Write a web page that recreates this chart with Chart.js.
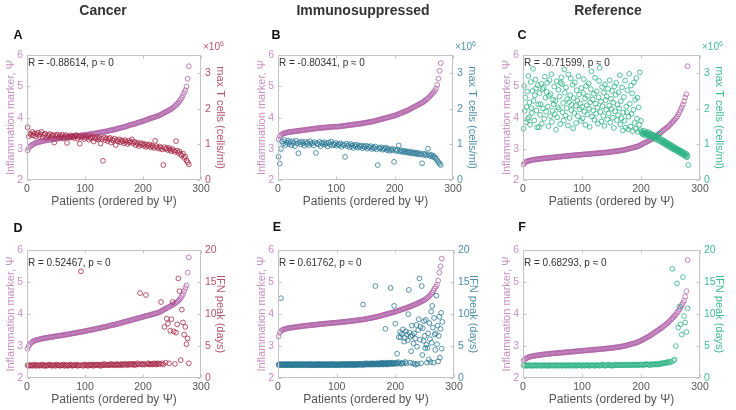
<!DOCTYPE html>
<html><head><meta charset="utf-8">
<script src="https://cdn.jsdelivr.net/npm/chart.js@4"></script>
<style>
body{margin:0;width:736px;height:410px;background:#fff;position:relative;overflow:hidden;font-family:"Liberation Sans",Arial,sans-serif}
.t{position:absolute;white-space:nowrap;line-height:1}
.title{font-weight:bold;font-size:14px;color:#333;transform:translate(-50%,-50%)}
.lt{font-weight:bold;font-size:12.5px;color:#111;transform:translate(-50%,-50%)}
.rt{font-size:10px;color:#333;transform:translateY(-50%)}
.ex{font-size:10px;transform:translateY(-50%)}
.ex sup{font-size:7px;vertical-align:4px}
canvas{position:absolute}
</style></head><body>
<script>
// ---------- data ----------
const patientTicks=[0,100,200,300];
const psiTicks=[2,3,4,5,6];
const tcellTicks=[0,1,2,3];
const ifnTicks=[0,5,10,15,20];
const columnTitles=['Cancer','Immunosuppressed','Reference'];
const panelLetters=['A','B','C','D','E','F'];
const rValues=['-0.88614','-0.80341','-0.71599','0.52467','0.61762','0.68293'];

// Psi (inflammation marker), patients 1,3,5,...,279
const psiCancerT=[2.95,3.02,3.07,3.10,3.13,3.15,3.17,3.19,3.20,3.21,
3.22,3.23,3.24,3.25,3.26,3.26,3.27,3.28,3.28,3.29,
3.30,3.30,3.31,3.31,3.32,3.32,3.33,3.33,3.34,3.34,
3.35,3.35,3.36,3.36,3.37,3.37,3.38,3.38,3.39,3.39,
3.40,3.40,3.41,3.41,3.42,3.42,3.43,3.43,3.44,3.44,
3.45,3.45,3.46,3.46,3.47,3.48,3.48,3.49,3.49,3.50,
3.51,3.51,3.52,3.53,3.53,3.54,3.55,3.55,3.56,3.57,
3.58,3.59,3.60,3.60,3.61,3.62,3.63,3.64,3.65,3.66,
3.67,3.68,3.69,3.70,3.71,3.72,3.73,3.75,3.76,3.77,
3.78,3.79,3.80,3.81,3.82,3.84,3.85,3.86,3.87,3.88,
3.90,3.91,3.92,3.94,3.95,3.96,3.98,3.99,4.00,4.01,
4.03,4.04,4.05,4.06,4.08,4.10,4.12,4.14,4.16,4.18,
4.20,4.22,4.24,4.26,4.28,4.31,4.34,4.37,4.40,4.44,
4.48,4.53,4.58,4.64,4.72,4.80,4.88,5.00,5.25,5.65];
// max T cells (x10^6 cells/ml), patients 1,3,...,279
const tCancer=[1.48,1.22,1.30,1.27,1.35,1.25,1.31,1.22,1.28,1.33,
1.24,1.29,1.35,1.21,1.27,1.30,1.18,1.26,1.23,1.29,
1.20,1.27,1.24,1.05,1.26,1.22,1.28,1.19,1.25,1.21,
1.27,1.17,1.23,1.26,1.04,1.22,1.19,1.25,1.20,1.24,
1.18,1.23,1.26,1.16,1.21,1.02,1.24,1.19,1.22,1.15,
1.22,1.18,1.25,1.13,1.20,1.17,1.23,1.08,1.19,1.15,
1.21,1.14,1.18,1.02,1.16,0.54,1.19,1.12,1.17,1.09,
1.15,1.18,1.05,1.13,1.10,1.16,0.98,1.12,1.08,1.14,
1.06,1.11,1.09,1.03,1.12,1.07,1.01,1.10,1.05,1.08,
1.14,1.03,1.07,0.98,1.05,1.01,0.95,1.04,0.99,1.02,
0.96,1.01,0.93,0.99,0.95,1.00,0.92,0.97,0.94,0.90,
1.10,0.95,0.91,0.88,0.94,0.90,0.86,0.42,0.92,0.87,
0.89,0.84,0.90,0.85,0.81,0.87,0.83,0.79,1.09,0.82,
0.76,0.80,0.72,0.68,0.74,0.62,0.66,0.55,0.50,0.44];

const psiImmunoT=[3.30,3.40,3.44,3.47,3.49,3.50,3.51,3.52,3.53,3.54,
3.54,3.55,3.55,3.56,3.56,3.57,3.57,3.58,3.58,3.59,
3.59,3.60,3.60,3.61,3.61,3.62,3.62,3.63,3.63,3.64,
3.64,3.65,3.65,3.66,3.66,3.67,3.67,3.67,3.68,3.68,
3.68,3.69,3.69,3.69,3.70,3.70,3.70,3.71,3.71,3.71,
3.71,3.71,3.72,3.72,3.73,3.73,3.74,3.74,3.75,3.75,
3.76,3.76,3.77,3.77,3.78,3.78,3.79,3.79,3.80,3.80,
3.81,3.81,3.82,3.83,3.83,3.84,3.85,3.85,3.86,3.87,
3.87,3.88,3.89,3.90,3.91,3.92,3.93,3.94,3.95,3.96,
3.97,3.98,3.99,4.00,4.01,4.02,4.03,4.04,4.05,4.06,
4.07,4.09,4.10,4.12,4.13,4.15,4.16,4.18,4.19,4.21,
4.22,4.24,4.26,4.28,4.30,4.32,4.34,4.36,4.38,4.40,
4.42,4.44,4.46,4.48,4.50,4.53,4.56,4.59,4.62,4.66,
4.70,4.74,4.78,4.82,4.87,4.93,5.05,5.25,5.50,5.75];
const tImmuno=[0.65,0.46,0.87,1.08,1.02,1.12,0.98,1.05,1.10,1.01,
1.07,0.97,1.09,1.04,0.95,1.10,1.03,0.75,1.06,1.00,
1.08,1.03,0.96,1.07,1.01,1.05,0.98,1.09,1.02,1.04,
0.97,1.06,0.76,1.03,1.00,1.07,0.95,1.04,1.01,1.06,
0.99,1.03,0.94,1.05,1.00,1.08,0.97,1.02,0.99,1.04,
0.96,1.01,0.98,1.03,0.93,1.00,0.97,0.65,1.02,0.95,
0.99,0.92,1.01,0.96,0.90,0.98,0.94,0.99,0.91,0.96,
0.93,0.97,0.89,0.95,0.92,0.96,0.88,0.94,0.91,0.95,
0.87,0.92,0.89,0.94,0.86,0.42,0.90,0.88,0.92,0.85,
0.89,0.87,0.91,0.84,0.88,0.82,0.86,0.83,0.87,0.51,
0.85,0.81,0.84,0.97,0.80,0.83,0.79,0.82,0.78,0.81,
0.77,0.80,0.76,0.79,0.75,0.78,0.74,0.77,0.73,0.76,
0.72,0.75,0.71,0.47,0.74,0.70,0.73,0.69,0.88,0.72,
0.67,0.70,0.65,0.68,0.63,0.60,0.55,0.50,0.46,0.42];

const psiRefT=[2.50,2.55,2.58,2.60,2.61,2.62,2.63,2.64,2.65,2.65,
2.66,2.66,2.67,2.67,2.68,2.68,2.69,2.69,2.70,2.70,
2.70,2.71,2.71,2.72,2.72,2.72,2.73,2.73,2.74,2.74,
2.74,2.75,2.75,2.76,2.76,2.76,2.77,2.77,2.78,2.78,
2.78,2.79,2.79,2.79,2.80,2.80,2.80,2.81,2.81,2.81,
2.82,2.82,2.82,2.83,2.83,2.83,2.84,2.84,2.84,2.85,
2.85,2.85,2.86,2.86,2.86,2.87,2.87,2.87,2.88,2.88,
2.88,2.89,2.89,2.90,2.90,2.91,2.91,2.92,2.92,2.93,
2.93,2.94,2.94,2.95,2.96,2.96,2.97,2.98,2.99,3.00,
3.01,3.02,3.03,3.04,3.05,3.06,3.07,3.08,3.10,3.12,
3.14,3.16,3.18,3.20,3.22,3.24,3.26,3.28,3.30,3.32,
3.34,3.37,3.40,3.43,3.46,3.49,3.52,3.55,3.58,3.61,
3.64,3.67,3.70,3.73,3.77,3.81,3.85,3.89,3.93,3.98,
4.03,4.10,4.17,4.25,4.33,4.42,4.52,4.65,4.75,5.65];
// patients 1..280 (every patient)
const tRef=[1.44,2.64,1.94,2.31,1.62,2.05,2.48,1.71,2.92,1.76,
2.18,1.55,2.75,2.02,1.88,2.50,3.12,2.22,1.67,2.38,
2.82,2.57,1.95,1.48,2.66,2.12,1.48,2.44,1.83,2.13,
2.70,1.58,2.55,2.01,2.59,1.72,2.90,2.31,1.92,2.47,
2.73,2.06,1.51,2.36,2.80,1.79,2.41,2.97,1.63,1.94,
2.25,2.13,2.62,1.85,2.22,1.41,2.77,1.76,2.04,2.53,
1.99,2.34,1.57,2.73,2.88,2.69,1.90,2.16,1.67,3.10,
2.45,1.81,2.60,2.02,2.27,1.53,2.96,2.19,1.74,2.38,
2.85,1.96,2.11,2.67,1.45,2.30,1.88,2.74,2.08,1.60,
2.52,2.23,1.79,2.91,2.40,1.98,2.15,1.66,2.58,2.05,
1.73,2.44,2.83,1.92,2.29,1.55,2.64,2.10,1.84,2.36,
2.71,2.00,1.49,2.18,2.55,3.05,1.78,2.26,1.95,2.42,
1.69,2.87,2.14,1.86,2.49,2.03,1.58,2.32,2.78,3.15,
1.91,2.20,1.64,2.61,2.07,1.80,2.45,1.52,2.68,2.24,
1.97,2.35,1.70,2.56,1.87,2.09,2.80,1.61,2.28,1.99,
2.50,1.75,2.17,1.46,2.63,1.93,2.39,2.72,1.68,2.11,
1.82,2.46,2.01,2.94,1.56,2.21,1.73,2.60,1.39,1.89,
2.33,1.66,2.79,1.47,2.06,1.90,2.52,1.42,1.78,2.98,
2.14,1.50,2.65,1.85,2.43,1.37,1.97,2.74,1.60,2.25,
1.44,2.86,1.72,2.31,1.35,2.04,1.55,3.02,1.40,1.66,
1.36,1.30,1.33,1.27,1.38,1.31,1.25,1.34,1.29,1.32,
1.26,1.35,1.28,1.22,1.31,1.24,1.29,1.20,1.27,1.23,
1.18,1.26,1.21,1.15,1.24,1.19,1.13,1.22,1.16,1.10,
1.17,1.30,1.12,1.07,1.14,1.09,1.04,1.11,1.06,1.01,
1.08,1.03,0.98,1.05,1.00,0.95,1.02,0.97,0.92,0.99,
0.94,0.89,0.96,0.91,0.86,0.93,0.88,0.84,0.90,0.85,
0.81,0.87,0.83,0.78,0.84,0.80,0.75,0.82,0.77,0.72,
0.79,0.74,0.69,0.76,0.71,0.66,0.73,0.64,0.68,0.42];

const psiCancerI=[2.92,3.00,3.06,3.10,3.13,3.15,3.17,3.18,3.19,3.20,
3.21,3.22,3.23,3.24,3.24,3.25,3.26,3.26,3.27,3.28,
3.28,3.29,3.29,3.30,3.31,3.31,3.32,3.32,3.33,3.33,
3.34,3.35,3.35,3.36,3.36,3.37,3.38,3.38,3.39,3.40,
3.40,3.41,3.42,3.42,3.43,3.44,3.44,3.45,3.46,3.46,
3.47,3.48,3.49,3.49,3.50,3.51,3.52,3.52,3.53,3.54,
3.55,3.56,3.56,3.57,3.58,3.59,3.60,3.60,3.61,3.62,
3.63,3.64,3.65,3.66,3.66,3.67,3.68,3.69,3.70,3.71,
3.72,3.73,3.74,3.75,3.76,3.77,3.78,3.79,3.80,3.81,
3.82,3.83,3.84,3.85,3.86,3.87,3.88,3.89,3.90,3.91,
3.92,3.93,3.94,3.95,3.96,3.97,3.98,3.99,4.00,4.01,
4.02,4.03,4.04,4.05,4.07,4.09,4.11,4.13,4.15,4.17,
4.19,4.21,4.23,4.25,4.27,4.29,4.31,4.33,4.36,4.39,
4.42,4.46,4.50,4.56,4.63,4.72,4.82,4.90,5.30,5.78];
// IFN peak (days), patients 1,3,...,279
const ifnCancer=[2.0,1.9,2.0,2.0,1.9,2.0,2.1,1.9,2.0,2.0,
1.9,2.0,2.0,2.1,1.9,2.0,1.9,2.0,2.0,2.1,
2.0,1.9,2.0,2.0,1.9,2.1,2.0,2.0,1.9,2.0,
2.0,2.1,1.9,2.0,2.0,1.9,2.0,2.1,2.0,1.9,
2.0,2.0,2.1,1.9,2.0,2.0,16.7,2.0,1.9,2.1,
2.0,2.0,1.9,2.1,2.0,2.0,2.1,1.9,2.0,2.1,
2.0,2.1,2.0,1.9,2.1,2.0,2.2,2.0,2.1,2.0,
2.1,2.0,2.2,2.1,2.0,2.1,2.0,2.2,2.1,2.0,
2.1,2.2,2.0,2.1,2.2,2.1,2.0,2.2,2.1,2.2,
2.1,2.2,2.0,2.2,2.1,2.3,2.1,13.3,2.2,2.1,
2.2,2.1,13.0,2.2,2.3,2.1,2.2,2.2,2.1,2.3,
2.2,2.1,2.3,2.2,2.2,11.9,2.3,2.1,8.0,2.4,
9.3,8.5,2.3,7.4,9.2,11.9,7.3,2.2,7.1,8.4,
15.6,13.6,2.8,10.7,8.7,6.8,8.0,5.3,6.2,2.3];

const psiImmunoI=[3.30,3.42,3.47,3.50,3.52,3.53,3.54,3.55,3.56,3.57,
3.57,3.58,3.58,3.59,3.59,3.60,3.60,3.61,3.61,3.62,
3.62,3.63,3.63,3.64,3.64,3.64,3.65,3.65,3.66,3.66,
3.66,3.67,3.67,3.68,3.68,3.68,3.69,3.69,3.70,3.70,
3.70,3.71,3.71,3.71,3.72,3.72,3.72,3.73,3.73,3.73,
3.74,3.74,3.74,3.75,3.75,3.76,3.76,3.76,3.77,3.77,
3.78,3.78,3.78,3.79,3.79,3.80,3.80,3.81,3.81,3.82,
3.82,3.83,3.83,3.84,3.85,3.85,3.86,3.87,3.87,3.88,
3.89,3.90,3.90,3.91,3.92,3.93,3.94,3.95,3.96,3.97,
3.98,3.99,4.00,4.01,4.02,4.03,4.04,4.05,4.06,4.07,
4.08,4.09,4.11,4.12,4.13,4.15,4.16,4.17,4.18,4.20,
4.21,4.22,4.24,4.25,4.27,4.28,4.30,4.31,4.33,4.35,
4.37,4.38,4.40,4.42,4.44,4.46,4.49,4.52,4.55,4.59,
4.63,4.68,4.74,4.80,4.86,4.92,5.05,5.30,5.50,5.74];
// patients 1..280
const ifnImmuno=[2.1,2.0,2.2,2.1,12.5,2.0,2.1,2.2,2.0,2.1,
2.1,2.0,2.1,2.2,2.0,2.1,2.1,2.0,2.2,2.1,
2.0,2.1,2.1,2.0,2.2,2.1,2.0,2.1,2.1,2.2,
2.1,2.0,2.1,2.1,2.0,2.2,2.1,2.0,2.1,2.1,
2.2,2.0,2.1,2.1,2.0,2.1,2.2,2.1,2.0,2.1,
2.1,2.0,2.2,2.1,2.1,2.0,2.1,2.2,2.0,2.1,
2.0,2.1,2.1,2.2,2.0,2.1,2.1,2.0,2.2,2.1,
2.1,2.2,2.0,2.1,2.1,2.0,2.1,2.2,2.1,2.0,
2.1,2.1,2.0,2.2,2.1,2.1,2.0,2.1,2.2,2.1,
2.0,2.1,2.2,2.1,2.0,2.1,2.1,2.2,2.0,2.1,
2.1,2.0,2.1,2.2,2.1,2.1,2.0,2.1,2.2,2.1,
2.1,2.2,2.0,2.1,2.1,2.2,2.0,2.1,2.1,2.2,
2.1,2.0,2.2,2.1,2.1,2.2,2.1,2.0,2.2,2.1,
2.2,2.1,2.1,2.0,2.2,2.1,2.2,2.1,2.1,2.2,
2.1,2.2,2.1,2.0,11.5,2.2,2.1,2.3,2.1,2.2,
2.2,2.1,2.3,2.2,2.1,2.2,2.2,2.1,2.3,2.2,
2.1,2.2,2.3,2.2,2.1,14.4,2.2,2.3,2.1,2.2,
2.3,2.2,2.1,2.2,2.3,2.2,2.4,2.2,2.1,2.3,
2.2,2.3,7.7,2.2,2.4,2.1,2.3,2.2,2.3,2.4,
2.2,14.1,2.3,2.2,2.4,2.3,2.2,11.3,2.3,8.5,
2.4,2.2,3.8,2.3,2.5,6.4,2.3,7.2,6.4,2.2,
6.9,2.4,7.6,2.3,5.7,6.3,2.5,7.3,2.3,6.8,
5.9,10.0,13.8,7.1,2.4,6.5,4.2,8.2,6.7,2.3,
5.4,7.0,2.2,6.2,2.1,8.3,4.9,2.2,7.5,9.2,
15.6,6.0,8.0,2.3,14.4,3.6,7.8,5.8,8.9,6.6,
4.7,9.1,5.2,2.4,4.7,7.0,2.9,8.6,6.1,2.5,
10.4,5.5,11.3,7.9,2.4,9.4,6.8,4.4,7.0,12.9,
5.3,8.2,2.6,6.6,9.6,3.2,7.7,10.2,4.6,8.8];

const psiRefI=[2.55,2.58,2.61,2.63,2.65,2.66,2.67,2.68,2.69,2.70,
2.70,2.71,2.71,2.72,2.72,2.73,2.73,2.74,2.74,2.75,
2.75,2.75,2.76,2.76,2.77,2.77,2.77,2.78,2.78,2.78,
2.79,2.79,2.79,2.80,2.80,2.80,2.81,2.81,2.81,2.82,
2.82,2.82,2.83,2.83,2.83,2.84,2.84,2.84,2.85,2.85,
2.85,2.86,2.86,2.86,2.87,2.87,2.87,2.88,2.88,2.88,
2.89,2.89,2.89,2.90,2.90,2.90,2.91,2.91,2.91,2.92,
2.92,2.93,2.93,2.93,2.94,2.94,2.95,2.95,2.96,2.96,
2.97,2.97,2.98,2.99,2.99,3.00,3.01,3.02,3.03,3.04,
3.05,3.06,3.07,3.08,3.09,3.10,3.11,3.13,3.14,3.16,
3.18,3.20,3.22,3.24,3.26,3.28,3.30,3.32,3.35,3.37,
3.40,3.42,3.45,3.47,3.50,3.52,3.55,3.57,3.60,3.63,
3.66,3.69,3.72,3.75,3.79,3.83,3.87,3.91,3.95,3.99,
4.04,4.09,4.15,4.21,4.28,4.35,4.42,4.55,4.72,5.69];
const ifnRef=[2.0,1.9,2.0,1.9,2.0,2.0,1.9,2.0,1.9,2.0,
2.0,1.9,2.0,2.0,1.9,2.0,1.9,2.0,2.0,1.9,
2.0,1.9,2.0,2.0,1.9,2.0,2.0,1.9,2.0,2.0,
1.9,2.0,2.0,1.9,2.0,2.0,1.9,2.0,2.0,1.9,
2.0,2.0,1.9,2.0,2.0,1.9,2.0,2.0,2.0,1.9,
2.0,2.0,1.9,2.0,2.0,2.0,1.9,2.0,2.0,2.0,
1.9,2.0,2.0,2.0,1.9,2.0,2.0,2.1,2.0,1.9,
2.0,2.0,2.1,2.0,2.0,1.9,2.0,2.1,2.0,2.0,
2.1,2.0,2.0,2.1,2.0,2.0,2.1,2.0,2.1,2.0,
2.0,2.1,2.0,2.1,2.1,2.0,2.1,2.0,2.1,2.1,
2.1,2.0,2.1,2.1,2.2,2.1,2.1,2.0,2.2,2.1,
2.1,2.2,2.1,2.2,2.1,2.2,2.3,2.2,2.3,2.4,
2.3,2.4,2.5,2.4,2.6,2.5,17.1,2.7,2.9,5.0,
14.8,7.9,11.2,8.4,6.8,15.8,9.7,8.7,7.2,10.9];

// ---------- drawing ----------
const FF='"Liberation Sans", Arial, sans-serif';
const psiColor='#B063A8', psiLabel='#C88FC2';
const panels=[
 {rect:[27,53,201,180], psi:psiCancerT, sec:tCancer, step:2, ticks:tcellTicks, max:3.5, title:'max T cells (cells/ml)', col:'#A62846', lab:'#B2546C', exp:true},
 {rect:[278,53,453,180], psi:psiImmunoT, sec:tImmuno, step:2, ticks:tcellTicks, max:3.5, title:'max T cells (cells/ml)', col:'#2B7896', lab:'#4E8FA9', exp:true},
 {rect:[523,53,700,180], psi:psiRefT, sec:tRef, step:1, ticks:tcellTicks, max:3.5, title:'max T cells (cells/ml)', col:'#2DB383', lab:'#41BB93', exp:true},
 {rect:[27,248,201,378], psi:psiCancerI, sec:ifnCancer, step:2, ticks:ifnTicks, max:20, title:'IFN peak (days)', col:'#A62846', lab:'#B2546C', exp:false},
 {rect:[278,248,454,378], psi:psiImmunoI, sec:ifnImmuno, step:1, ticks:ifnTicks, max:20, title:'IFN peak (days)', col:'#2B7896', lab:'#4E8FA9', exp:false},
 {rect:[523,248,700,378], psi:psiRefI, sec:ifnRef, step:2, ticks:ifnTicks, max:20, title:'IFN peak (days)', col:'#2DB383', lab:'#41BB93', exp:false}
];

const boxPlugin={id:'box',afterDraw(chart){
  const {ctx,chartArea:a,scales}=chart;
  const L=Math.round(a.left)+0.5,R=Math.round(a.right)-0.5,T=Math.round(a.top)+0.5,B=Math.round(a.bottom)-0.5;
  ctx.save();ctx.strokeStyle='#c3c3c3';ctx.lineWidth=1;
  ctx.beginPath();ctx.moveTo(L,T);ctx.lineTo(R,T);ctx.lineTo(R,B);ctx.lineTo(L,B);ctx.closePath();ctx.stroke();
  ctx.beginPath();
  patientTicks.forEach(v=>{const x=Math.round(scales.x.getPixelForValue(v))+0.5;ctx.moveTo(x,B);ctx.lineTo(x,B-3);ctx.moveTo(x,T);ctx.lineTo(x,T+3);});
  psiTicks.forEach(v=>{const y=Math.round(scales.y.getPixelForValue(v))+0.5;ctx.moveTo(L,y);ctx.lineTo(L+3,y);});
  scales.y2.ticks.forEach(t=>{const y=Math.round(scales.y2.getPixelForValue(t.value))+0.5;ctx.moveTo(R,y);ctx.lineTo(R-3,y);});
  ctx.stroke();ctx.restore();
}};

function pts(arr,step){return arr.map((v,i)=>({x:1+i*step,y:v}));}
function addText(cls,x,y,html,color){
  const d=document.createElement('div');d.className='t '+cls;d.style.left=x+'px';d.style.top=y+'px';
  d.innerHTML=html;if(color)d.style.color=color;document.body.appendChild(d);
}

const LW=27,RW=28,PT=8,BH=31;
panels.forEach((p,k)=>{
  const [l,t,r,b]=p.rect;
  const c=document.createElement('canvas');
  const w=LW+(r-l)+RW,h=PT+(b-t)+BH;
  c.width=w;c.height=h;c.style.left=(l-LW)+'px';c.style.top=(t-PT)+'px';
  c.style.width=w+'px';c.style.height=h+'px';
  document.body.appendChild(c);
  const mk={backgroundColor:'rgba(0,0,0,0)',pointRadius:2.4,pointBorderWidth:0.8,showLine:false,clip:false};
  new Chart(c,{type:'scatter',
    data:{datasets:[
      Object.assign({data:pts(p.sec,p.step),yAxisID:'y2',borderColor:p.col,order:0},mk),
      Object.assign({data:pts(p.psi,2),yAxisID:'y',borderColor:psiColor,order:1},mk)
    ]},
    options:{responsive:false,animation:false,devicePixelRatio:1,events:[],
      layout:{autoPadding:false,padding:{top:PT,left:0,right:0,bottom:0}},
      plugins:{legend:{display:false},tooltip:{enabled:false}},
      scales:{
        x:{type:'linear',min:0,max:300,afterBuildTicks:s=>{s.ticks=patientTicks.map(v=>({value:v}));},
          grid:{display:false,drawTicks:false},border:{display:false},
          ticks:{padding:3,color:'#555',font:{size:10.5,family:FF},maxRotation:0},
          title:{display:true,text:'Patients (ordered by Ψ)',color:'#555',font:{size:12,family:FF},padding:{top:0,bottom:1.8}},
          afterFit:s=>{s.height=BH;}},
        y:{position:'left',min:2,max:6,afterBuildTicks:s=>{s.ticks=psiTicks.map(v=>({value:v}));},
          grid:{display:false,drawTicks:false},border:{display:false},
          ticks:{padding:4,color:psiLabel,font:{size:10.5,family:FF}},
          title:{display:true,text:'Inflammation marker, Ψ',color:psiLabel,font:{size:11,family:FF},padding:{top:4.4,bottom:0}},
          afterFit:s=>{s.width=LW;}},
        y2:{position:'right',min:0,max:p.max,afterBuildTicks:s=>{s.ticks=p.ticks.map(v=>({value:v}));},
          grid:{display:false,drawTicks:false},border:{display:false},
          ticks:{padding:4,color:p.lab,font:{size:10.5,family:FF}},
          title:{display:true,text:p.title,color:p.lab,font:{size:11,family:FF},padding:{top:2.4,bottom:0}},
          afterFit:s=>{s.width=RW;}}
      }
    },
    plugins:[boxPlugin]
  });
  addText('rt',l+1,t+(k<3?10:15),'R = '+rValues[k]+', p ≈ 0');
  if(p.exp) addText('ex',r+2,t-7,'×10<sup>6</sup>',p.lab);
});
const titleX=[103,363,608];
columnTitles.forEach((s,i)=>addText('title',titleX[i],10,s));
const letterPos=[[18,35],[276,35],[522,35],[18,228],[277,227],[522,227]];
panelLetters.forEach((s,i)=>addText('lt',letterPos[i][0],letterPos[i][1],s));
</script>
</body></html>
